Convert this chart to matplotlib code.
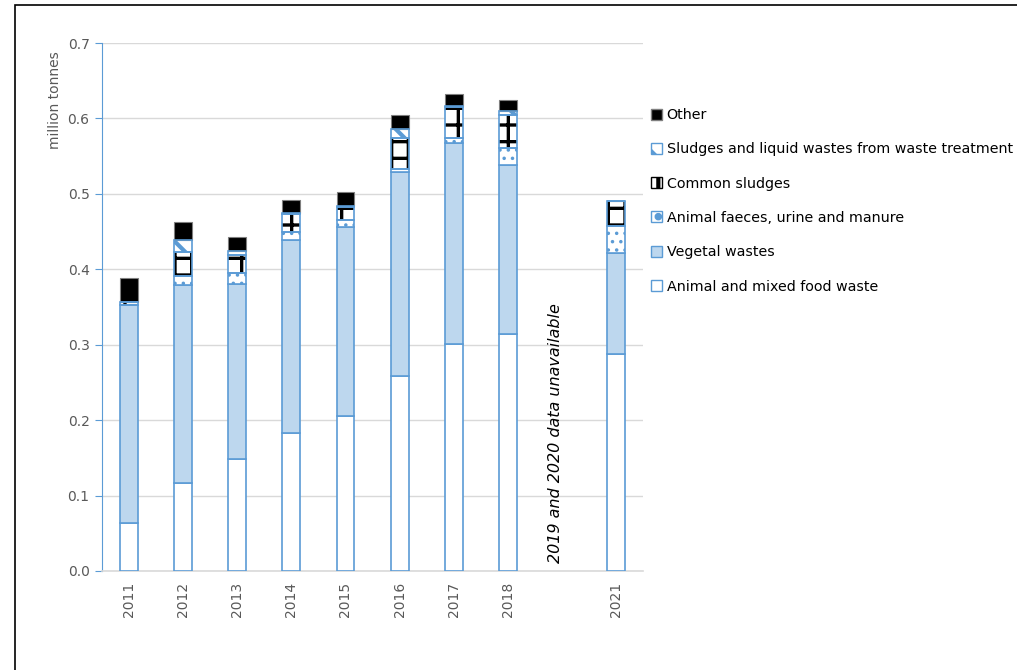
import matplotlib
matplotlib.use('Agg')
from matplotlib import pyplot as plt
from matplotlib.patches import Patch, Rectangle
import numpy as np

# categories ('' is the empty 2019/2020 slot)
years = ['2011', '2012', '2013', '2014', '2015', '2016', '2017', '2018', '', '2021']

# million tonnes, bottom to top
food     = [0.064, 0.116, 0.148, 0.183, 0.205, 0.259, 0.301, 0.314, None, 0.288]
vegetal  = [0.289, 0.263, 0.233, 0.256, 0.251, 0.270, 0.267, 0.224, None, 0.133]
faeces   = [0.000, 0.012, 0.014, 0.011, 0.009, 0.004, 0.006, 0.023, None, 0.037]
common   = [0.003, 0.032, 0.024, 0.023, 0.018, 0.041, 0.041, 0.043, None, 0.033]
sludges  = [0.000, 0.016, 0.005, 0.001, 0.001, 0.012, 0.001, 0.006, None, 0.000]
other    = [0.032, 0.024, 0.019, 0.018, 0.019, 0.019, 0.016, 0.015, None, 0.000]

labels = ['Animal and mixed food waste', 'Vegetal wastes', 'Animal faeces, urine and manure',
          'Common sludges', 'Sludges and liquid wastes from waste treatment', 'Other']

blue = '#5B9BD5'
light = '#BDD7EE'
grey = '#595959'

fig = plt.figure(figsize=(10.17, 6.70), dpi=100)
ax = fig.add_axes([0.1003, 0.1478, 0.532, 0.788])

x_all = np.arange(len(years))
keep = [i for i, v in enumerate(food) if v is not None]
x = x_all[keep]
def col(a):
    return np.array([a[i] for i in keep])

series = [col(food), col(vegetal), col(faeces), col(common), col(sludges), col(other)]
w = 0.33
bottom = np.zeros(len(x))

plt.rcParams['hatch.linewidth'] = 1.3
# food
ax.bar(x, series[0], w, bottom=bottom, color='white', edgecolor=blue, linewidth=1.2, zorder=3)
bottom += series[0]
# vegetal
ax.bar(x, series[1], w, bottom=bottom, color=light, edgecolor=blue, linewidth=1.2, zorder=3)
bottom += series[1]
# faeces - blue dots
ax.bar(x, series[2], w, bottom=bottom, color='white', edgecolor=blue, linewidth=0, hatch='..', zorder=3)
ax.bar(x, series[2], w, bottom=bottom, color='none', edgecolor=blue, linewidth=1.2, zorder=4)
bottom += series[2]
# common sludges - black grid
plt.rcParams['hatch.linewidth'] = 2.4
ax.bar(x, series[3], w, bottom=bottom, color='white', edgecolor='black', linewidth=0, hatch='+', zorder=3)
ax.bar(x, series[3], w, bottom=bottom, color='none', edgecolor=blue, linewidth=1.2, zorder=4)
bottom += series[3]
# sludges and liquid wastes - blue diagonal
plt.rcParams['hatch.linewidth'] = 3.0
ax.bar(x, series[4], w, bottom=bottom, color='white', edgecolor=blue, linewidth=0, hatch='\\', zorder=3)
ax.bar(x, series[4], w, bottom=bottom, color='none', edgecolor=blue, linewidth=1.2, zorder=4)
bottom += series[4]
# other
ax.bar(x, series[5], w, bottom=bottom, color='black', edgecolor='#7F7F7F', linewidth=0.8, zorder=3)

ax.set_xlim(-0.5, len(years) - 0.5)
ax.set_ylim(0, 0.7)
ax.set_yticks(np.arange(0, 0.71, 0.1))
ax.set_yticklabels(['%.1f' % v for v in np.arange(0, 0.71, 0.1)])
ax.set_xticks(x_all)
ax.set_xticklabels(years, rotation=90)
ax.tick_params(axis='x', length=0, labelsize=10, colors=grey, pad=8)
ax.tick_params(axis='y', length=5, color=blue, labelsize=10, labelcolor=grey, pad=4)
ax.grid(axis='y', color='#D9D9D9', linewidth=1, zorder=0)
ax.set_axisbelow(True)
for s in ['top', 'right']:
    ax.spines[s].set_visible(False)
ax.spines['left'].set_color(blue)
ax.spines['bottom'].set_color('#D9D9D9')
ax.spines['bottom'].set_linewidth(1.2)

ax.text(7.88, 0.183, '2019 and 2020 data unavailable', rotation=90, style='italic',
        fontsize=11.5, ha='center', va='center', color='black')

fig.text(55 / 1017, 1 - 100 / 670, 'million tonnes', rotation=90, ha='center', va='center',
         fontsize=10, color=grey)

handles = [
    Patch(facecolor='black', edgecolor='#7F7F7F'),
    Patch(facecolor='white', edgecolor=blue, hatch='\\'),
    Patch(facecolor='white', edgecolor='black', hatch='+'),
    Patch(facecolor='white', edgecolor=blue, hatch='.'),
    Patch(facecolor=light, edgecolor=blue),
    Patch(facecolor='white', edgecolor=blue),
]
fig.legend(handles, labels[::-1], loc='upper left', bbox_to_anchor=(651 / 1017, 1 - 108 / 670),
           frameon=False, fontsize=10.3, handlelength=0.8, handleheight=0.8, handletextpad=0.3,
           labelspacing=1.42, borderaxespad=0, borderpad=0)

# outer chart frame
fig.patches.append(Rectangle((15 / 1017, -0.05), 1.1, 1 - 5 / 670 + 0.05, transform=fig.transFigure,
                             fill=False, edgecolor='black', linewidth=1.2))

fig.savefig('out.png', dpi=100)
